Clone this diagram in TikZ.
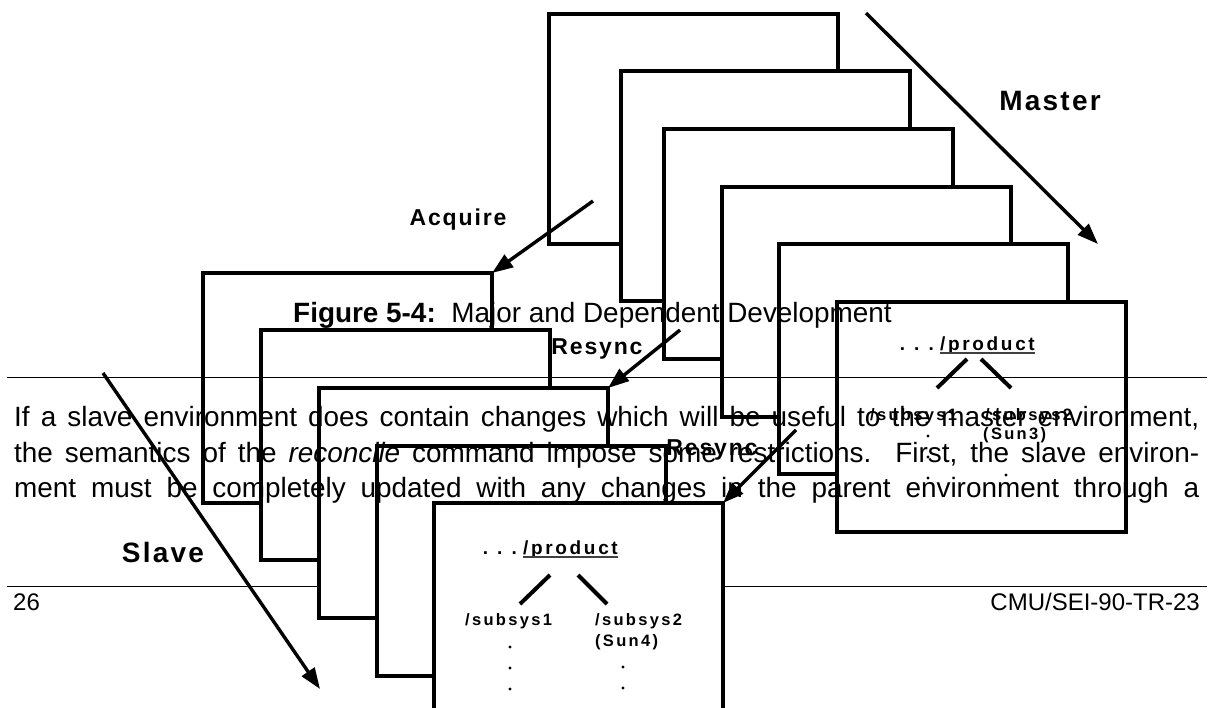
\documentclass[tikz,border=0pt]{standalone}
\usepackage{fontspec}
\setmainfont{Liberation Sans}
\newfontfamily\labelfont[LetterSpace=8]{Liberation Sans}
\newfontfamily\treefont[LetterSpace=14]{Liberation Sans}
\usepackage{tikz}
\usetikzlibrary{positioning, arrows.meta, calc}
\tikzstyle{arrow} = [line width=3.4pt, -{Triangle[length=21pt,width=15pt]}]
\tikzstyle{envbox} = [rectangle, draw=black, fill=white, line width=3.1pt, minimum width=289pt, minimum height=230pt, inner sep=0pt, outer sep=0pt, anchor=north west]
\tikzstyle{flowlabel} = [anchor=base, inner sep=0pt, font=\labelfont\bfseries\fontsize{23}{26}\selectfont]
\tikzstyle{biglabel} = [anchor=base, inner sep=0pt, font=\labelfont\bfseries\fontsize{28}{32}\selectfont]
\tikzstyle{bodyline} = [anchor=base west, inner sep=0pt, font=\fontsize{27.9}{33}\selectfont]
\tikzstyle{footline} = [anchor=base west, inner sep=0pt, font=\fontsize{24}{28}\selectfont]
\tikzstyle{treetext} = [anchor=base west, inner sep=0pt, font=\treefont\bfseries\fontsize{16.5}{18}\selectfont]
\tikzstyle{roottext} = [anchor=base west, inner sep=0pt, font=\treefont\bfseries\fontsize{19}{21}\selectfont]
\tikzstyle{branch} = [line width=4pt]
\tikzstyle{rule} = [line width=1pt]
\tikzstyle{underln} = [line width=1.3pt, black!75]

\begin{document}
\begin{tikzpicture}[x=1pt, y=-1pt]
        \useasboundingbox (0,0) rectangle (1214,707);
        % footer rule sits under the boxes
        \draw [rule] (7,586) -- (1207,586);

        % master environments
        \node (m1) [envbox] at (549,14) {};
        \node (m2) [envbox] at (621,71) {};
        \node (m3) [envbox] at (664,129) {};
        \node (m4) [envbox] at (722,187) {};
        \node (m5) [envbox] at (779,244) {};
        \node (m6) [envbox] at (837,302) {};

        % slave environments
        \node (s1) [envbox] at (203,273) {};
        \node (s2) [envbox] at (261,330) {};
        \node (s3) [envbox] at (319,388) {};
        \node (s4) [envbox] at (377,446) {};
        \node (s5) [envbox] at (434,503) {};

        % tree in the front master box
        \node (prod6) [roottext] at (940,350) {/product};
        \node (dots6) [roottext, anchor=base east] at ([xshift=-6pt]prod6.base west) {.\hspace{9pt}.\hspace{9pt}.};
        \draw [underln] ($(prod6.base west)+(0,3)$) -- ($(prod6.base east)+(0,3)$);
        \coordinate (fork6) at (974,352);
        \draw [branch] (fork6) ++(-7,7) -- ++(-30,29);
        \draw [branch] (fork6) ++(7,7) -- ++(30,29);
        \node (sub61) [treetext] at (870,420) {/subsys1};
        \node (sub62) [treetext] at (985,420) {/subsys2};
        \node (sun6) [treetext] at (983,439) {(Sun3)};
        \fill (928,436) circle[radius=1.7pt] (928,457) circle[radius=1.7pt] (928,478) circle[radius=1.7pt];
        \fill (1006,454) circle[radius=1.7pt] (1006,475) circle[radius=1.7pt];

        % tree in the front slave box
        \node (prodE) [roottext] at (523,554) {/product};
        \node (dotsE) [roottext, anchor=base east] at ([xshift=-6pt]prodE.base west) {.\hspace{9pt}.\hspace{9pt}.};
        \draw [underln] ($(prodE.base west)+(0,3)$) -- ($(prodE.base east)+(0,3)$);
        \coordinate (forkE) at (564,561);
        \draw [branch] (forkE) ++(-14,14) -- ++(-30,29);
        \draw [branch] (forkE) ++(14,14) -- ++(29,29);
        \node (subE1) [treetext] at (465,625) {/subsys1};
        \node (subE2) [treetext] at (595,625) {/subsys2};
        \node (sunE) [treetext] at (595,646) {(Sun4)};
        \fill (510,647) circle[radius=1.7pt] (510,668) circle[radius=1.7pt] (510,689) circle[radius=1.7pt];
        \fill (623,667) circle[radius=1.7pt] (623,688) circle[radius=1.7pt];

        % page text on top
        \node (caption) [bodyline] at (293,322) {\textbf{Figure 5-4:}\ \ Major and Dependent Development};
        \draw [rule] (7,377) -- (1207,377);
        \node (para1) [bodyline] at (14,426) {\makebox[1185pt][s]{If a slave environment does contain changes which will be useful to the master environment,}};
        \node (para2) [bodyline] at (14,462) {\makebox[1185pt][s]{the semantics of the \textit{reconcile} command impose some restrictions.\ \ First, the slave environ-}};
        \node (para3) [bodyline] at (14,497) {\makebox[1185pt][s]{ment must be completely updated with any changes in the parent environment through a}};
        \node (pagenum) [footline] at (13,610) {26};
        \node (docid) [footline, anchor=base east] at (1200,610) {CMU/SEI-90-TR-23};

        % flows
        \node (masterlabel) [biglabel] at (1050,110) {Master};
        \node (acqlabel) [flowlabel] at (458,225) {Acquire};
        \node (resynclabel1) [flowlabel] at (597,354) {Resync};
        \node (resynclabel2) [flowlabel] at (712,455) {Resync};
        \node (slavelabel) [biglabel] at (163,562) {Slave};

        \coordinate (mastertail) at (866,13);
        \coordinate (acqtail) at (593,201);
        \coordinate (resynctail1) at (680,330);
        \coordinate (resynctail2) at (796,430);
        \coordinate (slavetail) at (103,373);
        \coordinate (slavetip) at (320,689);
        \draw [arrow] (mastertail) -- ([xshift=30pt]m5.north east);
        \draw [arrow] (acqtail) -- (s1.north east);
        \draw [arrow] (resynctail1) -- (s3.north east);
        \draw [arrow] (resynctail2) -- (s5.north east);
        \draw [arrow] (slavetail) -- (slavetip);
\end{tikzpicture}
\end{document}
